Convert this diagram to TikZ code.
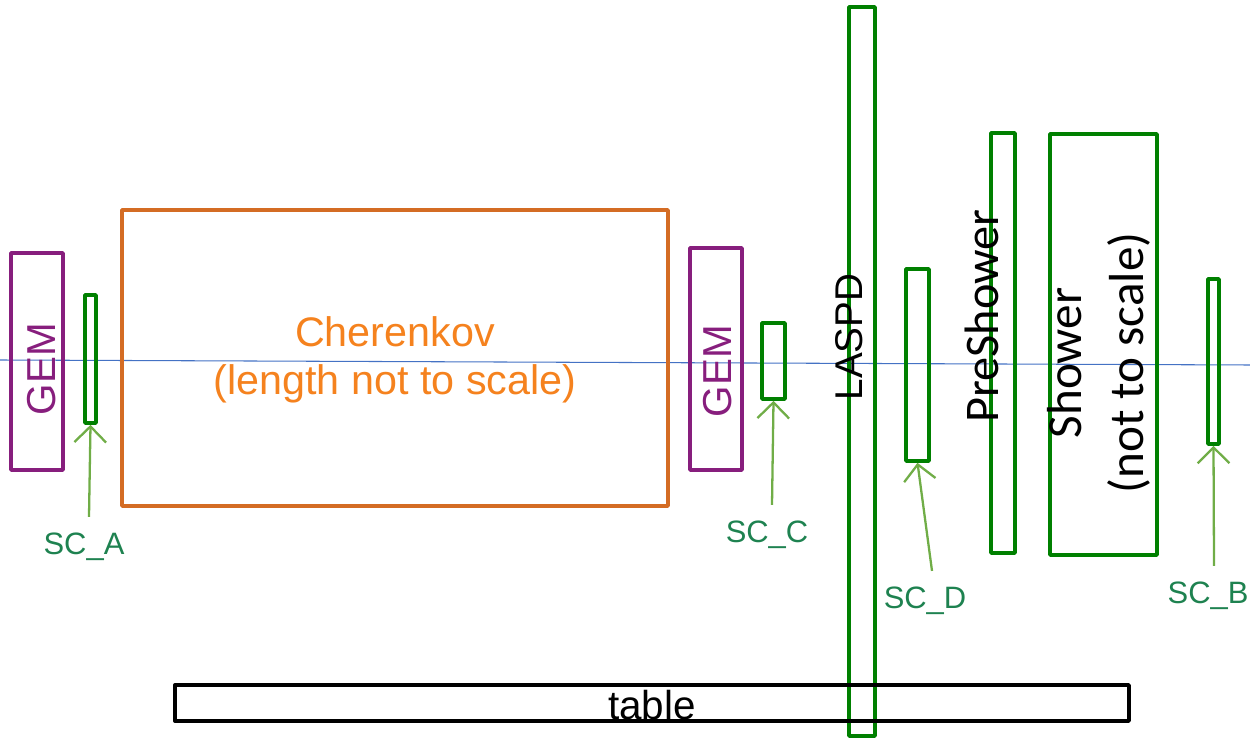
\documentclass[tikz,border=0pt]{standalone}
\usepackage{fontspec}
\setmainfont{Liberation Sans}
\newfontfamily\calfont{Carlito}
\usetikzlibrary{arrows.meta}

\definecolor{gempurple}{RGB}{135,30,125}
\definecolor{cherborder}{RGB}{212,108,36}
\definecolor{chertext}{RGB}{245,130,30}
\definecolor{detgreen}{RGB}{0,128,0}
\definecolor{pointgreen}{RGB}{112,173,71}
\definecolor{scgreen}{RGB}{30,130,80}
\definecolor{beamblue}{RGB}{68,114,196}

\tikzset{
  detbox/.style={draw,rectangle,line width=2.1pt,line join=round,inner sep=0pt},
  gembox/.style={detbox,draw=gempurple},
  scbox/.style={detbox,draw=detgreen},
  gemlabel/.style={text=gempurple,rotate=90,font=\fontsize{23}{27}\selectfont},
  sclabel/.style={text=scgreen,font=\fontsize{17.6}{20}\selectfont},
  pointer/.style={draw=pointgreen,line width=1.3pt,-{Straight Barb[length=9pt,width=18pt,line width=1.3pt]}},
  beam/.style={draw=beamblue,line width=0.6pt}
}

\begin{document}
\begin{tikzpicture}[x=0.02cm,y=-0.02cm]
  \useasboundingbox (0,0) rectangle (1250,739);

  % beam axis
  \coordinate (beamin) at (0,360);
  \coordinate (beamout) at (1250,365);
  \draw[beam] (beamin) -- (beamout);

  % upstream GEM, SC_A and Cherenkov
  \node[gembox,minimum width=1.04cm,minimum height=4.34cm] (gem1) at (37,361.5) {};
  \node[scbox,minimum width=0.22cm,minimum height=2.56cm] (scA) at (90.5,359) {};
  \node[detbox,draw=cherborder,minimum width=10.92cm,minimum height=5.92cm] (cher) at (395,358) {};

  % downstream GEM and SC_C
  \node[gembox,minimum width=1.04cm,minimum height=4.44cm] (gem2) at (716,359) {};
  \node[scbox,minimum width=0.46cm,minimum height=1.52cm] (scC) at (773.5,361) {};

  % LASPD, SC_D, calorimeter and SC_B
  \node[scbox,minimum width=0.52cm,minimum height=14.58cm] (laspd) at (862,371.5) {};
  \node[scbox,minimum width=0.46cm,minimum height=3.84cm] (scD) at (917.5,365) {};
  \node[scbox,minimum width=0.48cm,minimum height=8.4cm] (presh) at (1003,343) {};
  \node[scbox,minimum width=2.14cm,minimum height=8.42cm] (shower) at (1103.5,344.5) {};
  \node[scbox,minimum width=0.22cm,minimum height=3.3cm] (scB) at (1213.5,361.5) {};

  % table
  \node[detbox,draw=black,minimum width=19.08cm,minimum height=0.72cm] (table) at (652,703) {};

  % box texts
  \node[gemlabel] (gem1txt) at (42,369) {GEM};
  \node[gemlabel] (gem2txt) at (718,371) {GEM};
  \node[text=chertext,align=center,font=\fontsize{23.5}{27}\selectfont] (chertxt) at (395,360)
    {Cherenkov\\(length not to scale)};
  \node[rotate=90,font=\fontsize{22}{26}\selectfont] (laspdtxt) at (849,337) {LASPD};
  \node[rotate=90,font=\calfont\fontsize{27.5}{32}\selectfont] (preshtxt) at (982,316) {PreShower};
  \node[rotate=90,align=center,font=\calfont\fontsize{28}{35}\selectfont] (showertxt) at (1099,363)
    {Shower\\(not to scale)};
  \node[font=\fontsize{23}{27}\selectfont] (tabletxt) at (652,705) {table};

  % counter labels and pointers
  \node[sclabel] (sca) at (84,547) {SC\_A};
  \node[sclabel] (scc) at (767,535) {SC\_C};
  \node[sclabel] (scd) at (925,601) {SC\_D};
  \node[sclabel] (scb) at (1208,596) {SC\_B};

  \draw[pointer] (sca.north) ++(5,-10) -- (scA.south);
  \draw[pointer] (scc.north) ++(5,-10) -- (scC.south);
  \draw[pointer] (scd.north) ++(7,-10) -- (scD.south);
  \draw[pointer] (scb.north) ++(6,-10) -- (scB.south);
\end{tikzpicture}
\end{document}
